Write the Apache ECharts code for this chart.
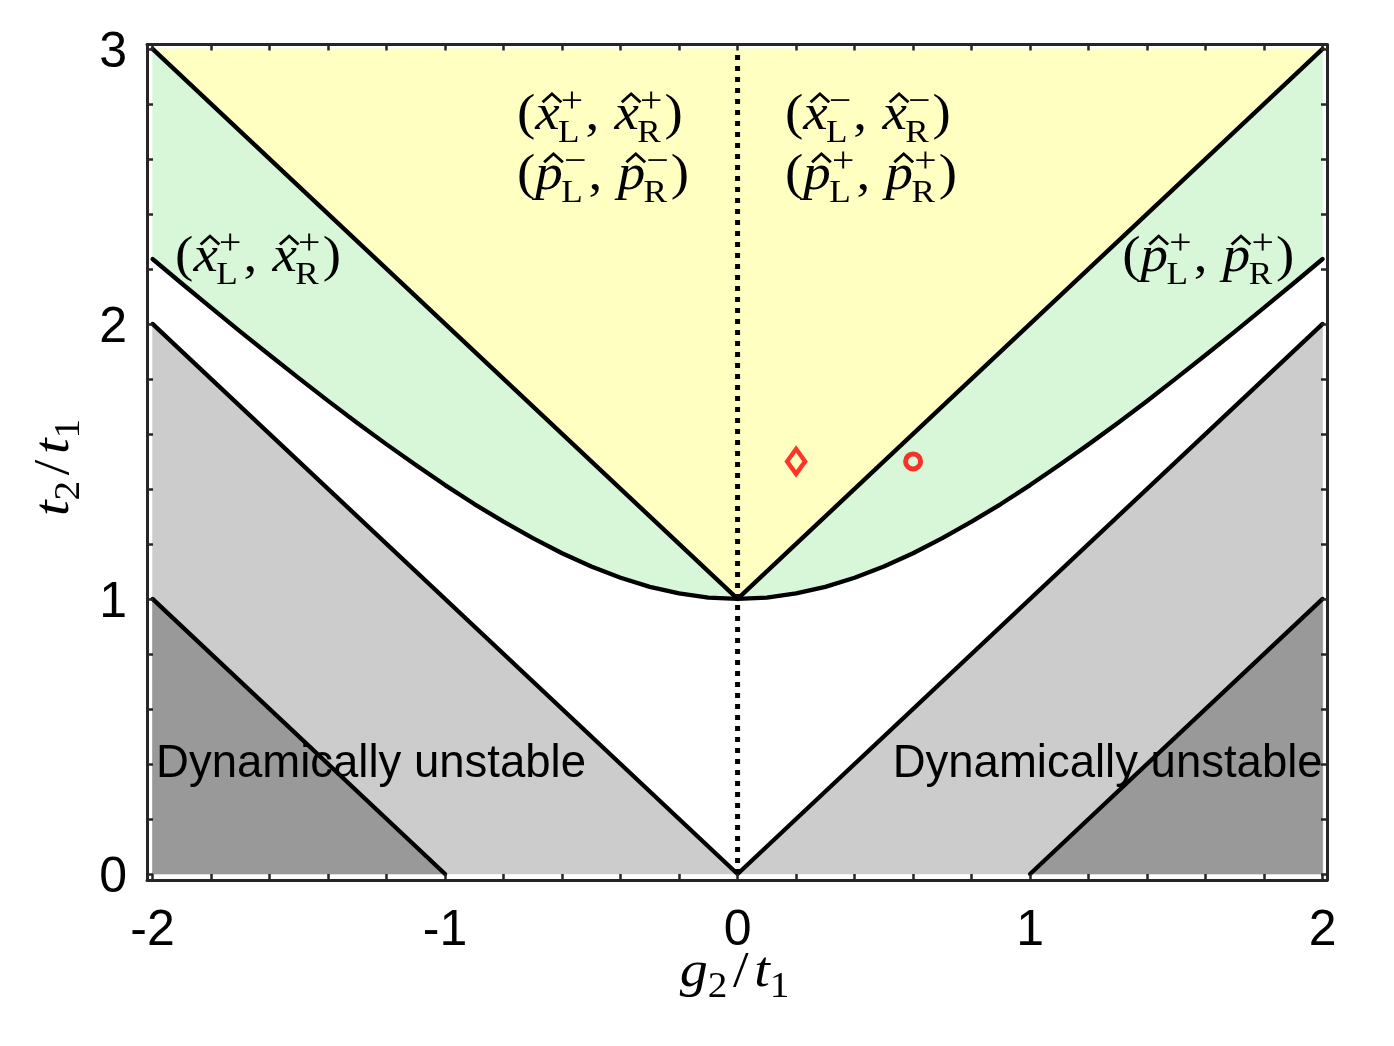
<!DOCTYPE html>
<html><head><meta charset="utf-8">
<script src="https://cdn.jsdelivr.net/npm/echarts@6/dist/echarts.min.js"></script>
<style>html,body{margin:0;padding:0;background:#fff}#c{width:1394px;height:1046px}</style>
</head><body><div id="c"></div>
<script>
// ---------- data ----------
const xTickLabels = [-2, -1, 0, 1, 2];
const yTickLabels = [0, 1, 2, 3];
const xMinorTicks = [-2, -1.8, -1.6, -1.4, -1.2, -1, -0.8, -0.6, -0.4, -0.2, 0, 0.2, 0.4, 0.6, 0.8, 1, 1.2, 1.4, 1.6, 1.8, 2];
const yMinorTicks = [0, 0.2, 0.4, 0.6, 0.8, 1, 1.2, 1.4, 1.6, 1.8, 2, 2.2, 2.4, 2.6, 2.8, 3];
// boundary curve
const curveX = [-2, -1.9, -1.8, -1.7, -1.6, -1.5, -1.4, -1.3, -1.2, -1.1, -1, -0.9, -0.8, -0.7, -0.6, -0.5, -0.4, -0.3, -0.2, -0.1, 0,
                 0.1, 0.2, 0.3, 0.4, 0.5, 0.6, 0.7, 0.8, 0.9, 1, 1.1, 1.2, 1.3, 1.4, 1.5, 1.6, 1.7, 1.8, 1.9, 2];
const curveY = [2.236, 2.147, 2.059, 1.972, 1.887, 1.803, 1.720, 1.640, 1.562, 1.487, 1.414, 1.345, 1.281, 1.221, 1.166, 1.118, 1.077, 1.044, 1.020, 1.005, 1.000,
                1.005, 1.020, 1.044, 1.077, 1.118, 1.166, 1.221, 1.281, 1.345, 1.414, 1.487, 1.562, 1.640, 1.720, 1.803, 1.887, 1.972, 2.059, 2.147, 2.236];
const upperVX = [-2, 0, 2], upperVY = [3, 1, 3];
const lowerVX = [-2, 0, 2], lowerVY = [2, 0, 2];
const leftCutX = [-2, -1], leftCutY = [1, 0];
const rightCutX = [1, 2], rightCutY = [0, 1];
const dividerX = [0, 0], dividerY = [0, 3];
const diamondPoint = [0.2, 1.5];
const circlePoint = [0.6, 1.5];
const plotTop = 3, plotBottom = 0, plotLeft = -2, plotRight = 2;

// text labels (anchor = data coords of left end of baseline)
const unstableText = 'Dynamically unstable';
const unstableLeftAnchor = [-1.988, 0.342];
const unstableRightAnchor = [2.0, 0.342];
const mathLabels = [
  {anchor: [-0.754, 2.695], tokens: [['(',0],['x',1,'L','+'],[',',0],['x',1,'R','+'],[')',0]]},
  {anchor: [-0.754, 2.477], tokens: [['(',0],['p',1,'L','−'],[',',0],['p',1,'R','−'],[')',0]]},
  {anchor: [0.162, 2.695],  tokens: [['(',0],['x',1,'L','−'],[',',0],['x',1,'R','−'],[')',0]]},
  {anchor: [0.162, 2.477],  tokens: [['(',0],['p',1,'L','+'],[',',0],['p',1,'R','+'],[')',0]]},
  {anchor: [-1.923, 2.178], tokens: [['(',0],['x',1,'L','+'],[',',0],['x',1,'R','+'],[')',0]]},
  {anchor: [1.315, 2.178],  tokens: [['(',0],['p',1,'L','+'],[',',0],['p',1,'R','+'],[')',0]]}
];

// ---------- helpers ----------
const zip = (xs, ys) => xs.map((x, i) => [x, ys[i]]);
const SERIF = '"Liberation Serif", "DejaVu Serif", serif';
const SANS = '"Liberation Sans", Arial, sans-serif';
const mctx = document.createElement('canvas').getContext('2d');
function measure(t, size, italic) { mctx.font = (italic ? 'italic ' : '') + size + 'px ' + SERIF; return mctx.measureText(t).width; }
function txt(t, x, baseline, size, italic) {
  return {type: 'text', x: x, y: baseline - 0.34 * size, z: 100,
    style: {text: t, font: (italic ? 'italic ' : '') + size + 'px ' + SERIF, fill: '#000',
            align: 'left', verticalAlign: 'middle', textAlign: 'left', textVerticalAlign: 'middle'}};
}
function hat(cx, fs) {
  return {type: 'polyline', z: 100,
    shape: {points: [[cx - 0.17 * fs, -0.61 * fs], [cx, -0.78 * fs], [cx + 0.17 * fs, -0.61 * fs]]},
    style: {stroke: '#000', lineWidth: 2.6, fill: null, lineJoin: 'miter'}};
}
// build children for a math-like label; tokens: [text, italicHat, sub, sup]
function mathKids(tokens, fs) {
  const kids = []; let x = 0; const ss = fs * 0.64, sp = fs * 0.72;
  tokens.forEach(tk => {
    const [t, it, sub, sup] = tk;
    const w = measure(t, fs, !!it);
    kids.push(txt(t, x, 0, fs, !!it));
    if (it) kids.push(hat(x + w / 2 + 0.08 * fs, fs));
    x += w;
    if (sub !== undefined || sup !== undefined) {
      let sw = 0;
      if (sup) { kids.push(txt(sup, x + 0.02 * fs, -0.36 * fs, sp, false)); sw = Math.max(sw, measure(sup, sp, false) + 0.02 * fs); }
      if (sub) { kids.push(txt(sub, x - 0.03 * fs, 0.24 * fs, ss, false)); sw = Math.max(sw, measure(sub, ss, false) - 0.03 * fs); }
      x += sw + 0.04 * fs;
    }
    if (t === ',') x += 0.28 * fs;
  });
  return {kids, width: x};
}
// simple label with plain subscripts: tokens [text, italic, sub, gapBefore, gapAfter]
function subKids(tokens, fs) {
  const kids = []; let x = 0; const ss = fs * 0.7;
  tokens.forEach(([t, it, sub, g0, g1]) => {
    x += (g0 || 0) * fs;
    const w = measure(t, fs, it); kids.push(txt(t, x, 0, fs, it)); x += w;
    if (sub) { kids.push(txt(sub, x, 0.2 * fs, ss, false)); x += measure(sub, ss, false); }
    x += (g1 || 0) * fs;
  });
  return {kids, width: x};
}

function polySeries(pts, color) {
  return {type: 'custom', coordinateSystem: 'cartesian2d', data: [[0, 0]], silent: true, z: 1,
    renderItem: (params, api) => ({type: 'polygon', shape: {points: pts.map(p => api.coord(p))}, style: {fill: color, stroke: color, lineWidth: 0.5}})};
}
function lineSeries(data, extra) {
  return Object.assign({type: 'line', data: data, showSymbol: false, silent: true, z: 3, animation: false,
    lineStyle: {color: '#000', width: 4.3, cap: 'round', join: 'round'}}, extra || {});
}

const greenPoly = [[plotLeft, plotTop], [plotRight, plotTop]].concat(zip(curveX, curveY).reverse());
const yellowPoly = zip(upperVX, upperVY);
const grayPoly = [[plotLeft, plotBottom]].concat(zip(lowerVX, lowerVY), [[plotRight, plotBottom]]);
const darkLeftPoly = [[plotLeft, plotBottom]].concat(zip(leftCutX, leftCutY));
const darkRightPoly = [[plotRight, plotBottom]].concat(zip(rightCutX, rightCutY));

const axisCol = '#262626';
function xAx(pos, labels) {
  return {type: 'value', position: pos, min: -2.019, max: 2.015, z: 10,
    axisLine: {show: true, onZero: false, lineStyle: {color: axisCol, width: 3}},
    axisTick: {show: true, inside: true, length: 6, customValues: xMinorTicks, lineStyle: {color: axisCol, width: 2.5}},
    axisLabel: {show: labels, customValues: xTickLabels, fontSize: 50, fontFamily: SANS, color: '#000', margin: 26},
    splitLine: {show: false}};
}
function yAx(pos, labels) {
  return {type: 'value', position: pos, min: -0.022, max: 3.016, z: 10,
    axisLine: {show: true, onZero: false, lineStyle: {color: axisCol, width: 3}},
    axisTick: {show: true, inside: true, length: 6, customValues: yMinorTicks, lineStyle: {color: axisCol, width: 2.5}},
    axisLabel: {show: labels, customValues: yTickLabels, fontSize: 50, fontFamily: SANS, color: '#000', margin: 20,
                verticalAlign: 'top', lineHeight: 9},
    splitLine: {show: false}};
}

const chart = echarts.init(document.getElementById('c'), null, {renderer: 'canvas'});
chart.setOption({
  animation: false,
  backgroundColor: '#fff',
  grid: {left: 147, right: 67, top: 44.5, bottom: 166, containLabel: false, outerBoundsMode: 'none'},
  xAxis: [xAx('bottom', true), xAx('top', false)],
  yAxis: [yAx('left', true), yAx('right', false)],
  series: [
    polySeries(greenPoly, '#D8F7D8'),
    polySeries(yellowPoly, '#FFFFC2'),
    polySeries(grayPoly, '#CCCCCC'),
    polySeries(darkLeftPoly, '#999999'),
    polySeries(darkRightPoly, '#999999'),
    lineSeries(zip(upperVX, upperVY)),
    lineSeries(zip(curveX, curveY)),
    lineSeries(zip(lowerVX, lowerVY)),
    lineSeries(zip(leftCutX, leftCutY)),
    lineSeries(zip(rightCutX, rightCutY)),
    lineSeries(zip(dividerX, dividerY), {lineStyle: {color: '#000', width: 5, type: [5, 6], cap: 'butt'}}),
    {type: 'scatter', data: [diamondPoint], symbol: 'diamond', symbolSize: [18, 25], z: 5, silent: true,
     itemStyle: {color: 'rgba(0,0,0,0)', borderColor: '#FF0000', borderWidth: 4.5}},
    {type: 'scatter', data: [circlePoint], symbol: 'circle', symbolSize: 15, z: 5, silent: true,
     itemStyle: {color: 'rgba(0,0,0,0)', borderColor: '#FF0000', borderWidth: 5}}
  ]
});

// ---------- text overlays ----------
const px = p => chart.convertToPixel({gridIndex: 0}, p);
const graphics = [];
const FS = 50, SCX = 1.1;
mathLabels.forEach(lb => {
  const m = mathKids(lb.tokens, FS);
  const p = px(lb.anchor);
  graphics.push({type: 'group', x: p[0], y: p[1], scaleX: SCX, z: 100, children: m.kids});
});
const pl = px(unstableLeftAnchor), pr = px(unstableRightAnchor);
const UFS = 45.5;
[[pl, 'left'], [pr, 'right']].forEach(([p, al]) => {
  graphics.push({type: 'text', x: p[0], y: p[1] - 0.34 * UFS, z: 100,
    style: {text: unstableText, font: UFS + 'px ' + SANS, fill: '#000', align: al, verticalAlign: 'middle', textAlign: al, textVerticalAlign: 'middle'}});
});
// axis titles
const TFS = 51, TSCX = 1.1;
const xt = subKids([['g', true, '2'], ['/', false, null, 0.1, 0.1], ['t', true, '1']], TFS);
const xc = px([0, 0]);
graphics.push({type: 'group', x: xc[0] - 3 - xt.width * TSCX / 2, y: 990, scaleX: TSCX, z: 100, children: xt.kids});
const yt = subKids([['t', true, '2'], ['/', false, null, 0.1, 0.1], ['t', true, '1']], TFS);
const yc = px([0, 1.5]);
graphics.push({type: 'group', x: 72, y: yc[1] + 6 + yt.width * TSCX / 2, rotation: Math.PI / 2, scaleX: TSCX, z: 100, children: yt.kids});
chart.setOption({graphic: graphics});
</script></body></html>
